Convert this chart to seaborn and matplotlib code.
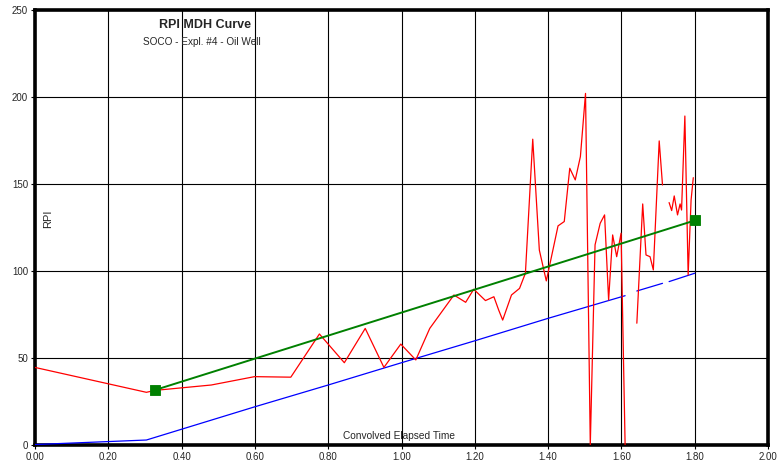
import numpy as np
import pandas as pd
import matplotlib
matplotlib.use("Agg")
import matplotlib.pyplot as plt
import seaborn as sns

# ---- data ----
# red series: RPI measurements (segments separated by gaps)
red_seg = [0] * 48 + [1] * 7 + [2] * 10
red_x = [0.000, 0.304, 0.327, 0.481, 0.599, 0.698, 0.776, 0.844, 0.901, 0.952,
         0.998, 1.039, 1.077, 1.143, 1.175, 1.197, 1.229, 1.252, 1.265, 1.276,
         1.300, 1.322, 1.338, 1.358, 1.376, 1.395, 1.415, 1.427, 1.444, 1.459,
         1.474, 1.488, 1.502, 1.515, 1.528, 1.542, 1.554, 1.565, 1.576, 1.587,
         1.599, 1.610, 1.610, 1.610, 1.610, 1.610, 1.610, 1.610,
         1.642, 1.658, 1.667, 1.678, 1.687, 1.703, 1.712,
         1.730, 1.737, 1.744, 1.753, 1.760, 1.764, 1.773, 1.782, 1.790, 1.796]
red_y = [44.6, 30.3, 31.4, 34.5, 39.3, 39.0, 63.8, 47.3, 67.0, 44.6,
         58.0, 48.9, 67.0, 86.2, 82.0, 89.5, 83.0, 85.2, 77.6, 71.8,
         86.2, 90.0, 98.7, 175.7, 112.0, 94.3, 114.0, 125.9, 128.4, 159.0,
         152.3, 165.7, 202.0, 0.0, 115.0, 127.4, 132.2, 83.3, 120.7, 108.2,
         121.7, 0.0, 0.0, 0.0, 0.0, 0.0, 0.0, 0.0,
         70.0, 138.5, 109.2, 108.2, 100.6, 174.7, 149.4,
         139.3, 134.7, 143.1, 132.2, 138.5, 135.0, 189.0, 97.7, 140.8, 153.6]

# blue series: reference curve (segments separated by gaps)
blue_seg = [0, 0, 0, 0, 0, 0, 0, 0, 1, 1, 2, 2]
blue_x = [0.000, 0.304, 0.600, 0.800, 1.000, 1.200, 1.400, 1.610,
          1.642, 1.712, 1.730, 1.800]
blue_y = [0.3, 2.9, 22.0, 34.5, 47.3, 59.9, 72.8, 85.8,
          88.5, 92.9, 93.9, 98.7]

# green fitted line with end markers
green_x = [0.327, 1.800]
green_y = [31.6, 129.0]

x_ticks = [0.0, 0.2, 0.4, 0.6, 0.8, 1.0, 1.2, 1.4, 1.6, 1.8, 2.0]
y_ticks = [0, 50, 100, 150, 200, 250]

title = "RPI MDH Curve"
subtitle = "SOCO - Expl. #4 - Oil Well"
x_label = "Convolved Elapsed Time"
y_label = "RPI"

# ---- plot ----
sns.set_style("white")
plt.rcParams["font.family"] = ["Liberation Sans", "DejaVu Sans"]

fig = plt.figure(figsize=(7.77, 4.68), dpi=100)
ax = fig.add_axes([0.045, 0.049, 0.9435, 0.93])

red_df = pd.DataFrame({"x": red_x, "y": red_y, "seg": red_seg})
blue_df = pd.DataFrame({"x": blue_x, "y": blue_y, "seg": blue_seg})
green_df = pd.DataFrame({"x": green_x, "y": green_y})

sns.lineplot(data=blue_df, x="x", y="y", units="seg", estimator=None, sort=False,
             color="#0000FF", linewidth=0.9, ax=ax, zorder=3)
sns.lineplot(data=red_df, x="x", y="y", units="seg", estimator=None, sort=False,
             color="#FF0000", linewidth=0.9, ax=ax, zorder=4)
sns.lineplot(data=green_df, x="x", y="y", sort=False, color="#008000",
             linewidth=1.4, ax=ax, zorder=5)
sns.scatterplot(data=green_df, x="x", y="y", marker="s", s=60, color="#008000",
                edgecolor="#008000", ax=ax, zorder=6)

ax.set_xlim(0, 2.0)
ax.set_ylim(0, 250)
ax.set_xticks(x_ticks)
ax.set_yticks(y_ticks)
ax.set_xticklabels([f"{v:.2f}" for v in x_ticks])
ax.set_yticklabels([str(v) for v in y_ticks])
ax.tick_params(axis="both", labelsize=7, length=3, width=0.8, direction="out",
               color="black", pad=2, bottom=True, left=True)
ax.grid(True, color="black", linewidth=0.8)
ax.set_axisbelow(True)
for s in ax.spines.values():
    s.set_color("black")
    s.set_linewidth(2.6)
ax.set_xlabel("")
ax.set_ylabel("")

ax.text(0.232, 0.98, title, transform=ax.transAxes, ha="center", va="top",
        fontsize=9, fontweight="bold")
ax.text(0.228, 0.937, subtitle, transform=ax.transAxes, ha="center", va="top",
        fontsize=7.2)
ax.text(0.496, 0.01, x_label, transform=ax.transAxes, ha="center", va="bottom",
        fontsize=7.3)
ax.text(0.018, 0.52, y_label, transform=ax.transAxes, ha="center", va="center",
        rotation=90, fontsize=8)

fig.savefig("out.png", dpi=100)
